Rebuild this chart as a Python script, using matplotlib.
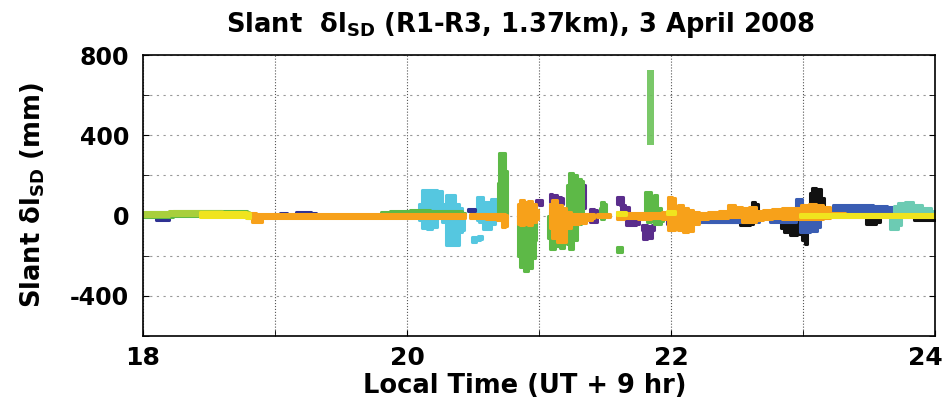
import numpy as np
import matplotlib
matplotlib.use("Agg")
import matplotlib.pyplot as plt
from matplotlib.transforms import ScaledTranslation

plt.rcParams['axes.unicode_minus'] = False

# each colour: list of segments, each segment is (hour, low mm, high mm) samples
cyan_segs = [
    [(20.085, -10, 30), (20.10, -20, 60), (20.13, -60, 125), (20.17, -65, 127),
     (20.21, -55, 127), (20.25, -10, 120), (20.28, -30, 60), (20.31, -148, 102),
     (20.35, -148, 100), (20.38, -148, 60), (20.41, -82, 40), (20.43, -70, 15)],
    [(20.49, -132, -105), (20.52, -130, -107)],
    [(20.54, -120, -100), (20.57, -118, -100)],
    [(20.53, -20, 93), (20.56, -30, 93), (20.59, -65, 68), (20.62, -65, 68),
     (20.65, -40, 85), (20.68, -10, 85), (20.69, -5, 20)],
]
purple_segs = [
    [(20.98, 60, 80), (21.02, 55, 77)],
    [(21.08, 68, 105), (21.12, 70, 100), (21.16, 60, 93), (21.18, 60, 90)],
    [(21.32, 35, 160), (21.35, 40, 150)],
    [(21.39, -32, 35), (21.44, -30, 30)],
    [(21.59, 60, 93), (21.64, 55, 93)],
    [(21.62, 18, 52), (21.68, 18, 45)],
    [(21.66, -48, -7), (21.71, -48, -5), (21.76, -40, -7)],
    [(21.78, -70, -45), (21.80, -115, -48), (21.84, -110, -50), (21.87, -70, -45)],
    [(21.97, -40, -15), (22.02, -35, -15)],
    [(22.27, -32, -7), (22.40, -30, -10), (22.57, -32, -8)],
]
navy_segs = [
    [(18.10, -22, -12), (18.20, -20, -12)],
    [(19.04, 2, 12), (19.09, 2, 12)],
    [(19.16, 4, 16), (19.23, 5, 18), (19.31, 4, 14)],
    [(20.465, 22, 35), (20.515, 22, 35)],
]
green_segs = [
    [(18.00, -8, 18), (18.15, -6, 20), (18.30, -4, 22), (18.45, -2, 24),
     (18.60, 0, 25), (18.75, -4, 24), (18.82, -12, 12)],
    [(19.80, -2, 16), (19.95, 0, 24), (20.10, 0, 26), (20.25, -4, 22),
     (20.40, -4, 24), (20.44, 0, 14)],
    [(20.69, -10, 160), (20.71, -20, 310), (20.735, -30, 310), (20.755, -10, 220)],
    [(20.84, -200, 0), (20.87, -255, -5), (20.90, -275, 0), (20.93, -260, 10),
     (20.96, -210, 0), (20.98, -120, 0)],
    [(21.07, -110, 0), (21.10, -165, 20), (21.14, -150, 30), (21.18, -160, 10),
     (21.20, -130, 0)],
    [(21.21, -140, 150), (21.24, -165, 210), (21.27, -120, 200), (21.30, -40, 180),
     (21.33, -20, 170)],
    [(21.46, 0, 40), (21.48, -15, 68), (21.51, 5, 60)],
    [(21.59, -180, -155), (21.63, -180, -155)],
    [(21.80, -15, 118), (21.83, -30, 118), (21.86, -20, 80), (21.88, -40, 100),
     (21.91, -40, 40), (21.94, -25, 0)],
]
green_column = [(21.82, 350, 725), (21.845, 350, 725), (21.87, 350, 725)]
black_segs = [
    [(22.52, -48, -30), (22.58, -45, -25), (22.62, -40, -20)],
    [(22.61, 27, 68), (22.66, 27, 60)],
    [(22.83, -60, -30), (22.88, -80, -30), (22.93, -98, -30), (22.98, -90, -30),
     (23.00, -120, -40), (23.03, -140, -50)],
    [(23.05, 52, 110), (23.08, 60, 135), (23.12, 60, 130), (23.16, 52, 90)],
    [(23.48, -40, -15), (23.53, -40, -15), (23.58, -30, -15)],
    [(23.84, -23, -7), (23.92, -20, -5), (24.00, -23, -7)],
]
blue_segs = [
    [(22.12, -30, -15), (22.40, -30, -15), (22.67, -30, -15)],
    [(22.75, -32, -15), (22.85, -32, -15), (22.95, -32, -15)],
    [(22.95, 18, 85), (22.99, 18, 85)],
    [(22.98, -82, -15), (23.03, -82, -15), (23.08, -75, -15), (23.13, -55, -15)],
    [(23.23, 18, 52), (23.35, 18, 55), (23.47, 15, 52), (23.59, 15, 50), (23.69, 15, 45)],
]
teal_segs = [
    [(23.69, 18, 50), (23.75, 18, 62), (23.80, 18, 68), (23.87, 18, 55),
     (23.94, 15, 40), (24.00, 10, 25)],
    [(23.66, -65, -15), (23.70, -65, -15), (23.74, -45, -15)],
]
lime_segs = [
    [(18.00, 0, 20), (18.40, 2, 24), (18.80, 0, 20)],
    [(22.68, -5, 10), (22.78, -5, 10)],
]
orange_segs = [
    [(18.81, -10, 12), (18.84, -32, 12), (18.88, -30, 8), (18.92, -12, 10),
     (19.10, -12, 10), (19.30, -10, 10), (19.50, -12, 8), (19.70, -10, 10),
     (19.90, -12, 8), (20.10, -12, 8), (20.30, -10, 8), (20.44, -10, 10)],
    [(20.48, -10, 10), (20.55, -12, 8), (20.65, -15, 8), (20.71, -20, 10),
     (20.73, -57, 10), (20.755, -50, 5)],
    [(20.84, -40, 60), (20.87, -48, 77), (20.90, -40, 70), (20.93, -45, 75),
     (20.96, -30, 60), (20.99, -15, 30)],
    [(21.08, -60, 60), (21.12, -110, 80), (21.16, -130, 52), (21.19, -132, 40),
     (21.22, -60, 20), (21.27, -40, 10), (21.33, -35, 10), (21.38, -20, 10),
     (21.42, -10, 10)],
    [(21.44, -5, 10), (21.50, -5, 10), (21.54, -5, 10)],
    [(21.59, -15, 18), (21.70, -12, 15), (21.80, -15, 15), (21.90, -12, 15),
     (21.96, -15, 20), (21.99, -73, 93), (22.02, -70, 90), (22.04, -40, 40),
     (22.07, -70, 52), (22.11, -82, 40), (22.15, -75, 30), (22.19, -40, 20),
     (22.24, -15, 15), (22.32, -12, 18), (22.40, -10, 25), (22.46, -5, 52),
     (22.51, -5, 45), (22.56, -30, 40), (22.62, -32, 43), (22.67, -20, 25),
     (22.73, -15, 30), (22.80, -12, 35), (22.88, -15, 40), (22.95, -15, 40),
     (23.02, -15, 52), (23.07, -15, 60), (23.12, -15, 55), (23.18, -12, 45),
     (23.23, -8, 15), (23.40, -5, 8), (23.70, -5, 6), (24.00, -5, 6)],
]
yellow_segs = [
    [(18.43, -5, 18), (18.55, -8, 20), (18.65, -5, 20), (18.75, -8, 18), (18.81, -12, 12)],
    [(21.59, 5, 18), (21.66, 5, 18)],
    [(21.97, 8, 22), (22.03, 8, 22)],
    [(22.98, -8, 10), (23.30, -8, 8), (23.60, -8, 8), (24.00, -8, 8)],
]

colors = {
    'cyan': '#55c7e0', 'purple': '#5a2d8c', 'navy': '#2e3192', 'green': '#5db947',
    'black': '#111111', 'blue': '#3a5db3', 'teal': '#6ccbb3', 'lime': '#a8cf3c',
    'orange': '#f7a11a', 'yellow': '#f0e41e',
}
layers = [('cyan', cyan_segs), ('purple', purple_segs), ('navy', navy_segs),
          ('green', green_segs), ('black', black_segs), ('blue', blue_segs),
          ('teal', teal_segs), ('lime', lime_segs), ('orange', orange_segs),
          ('yellow', yellow_segs)]

fig = plt.figure(figsize=(9.45, 4.03), dpi=100)
ax = fig.add_axes([0.1513, 0.1663, 0.8381, 0.6972])

for name, segs in layers:
    c = colors[name]
    for seg in segs:
        t, lo, hi = np.array(seg).T
        pc = ax.fill_between(t, lo, hi, step='mid', color=c, lw=2.2, edgecolor=c)
        pc.set_joinstyle('round')

t, lo, hi = np.array(green_column).T
ax.fill_between(t, lo, hi, step='mid', color='#6cc259', alpha=0.9, lw=0)

ax.set_xlim(18, 24)
ax.set_ylim(-600, 800)
ax.set_xticks([18, 20, 22, 24])
ax.set_xticks([19, 21, 23], minor=True)
ax.set_yticks([-400, 0, 400, 800])
ax.set_yticks([-600, -200, 200, 600], minor=True)
ax.grid(True, which='both', axis='x', ls=':', color='#555555', lw=0.8)
ax.grid(True, which='both', axis='y', ls=(0, (2, 4)), color='#999999', lw=0.8)
ax.set_axisbelow(True)
ax.tick_params(which='both', direction='in', top=False, right=True, length=4)
ax.tick_params(axis='y', labelsize=17, pad=10)
ax.tick_params(axis='x', labelsize=18, pad=7)
for lab in ax.get_xticklabels() + ax.get_yticklabels():
    lab.set_fontweight('bold')
last = ax.get_xticklabels()[-1]
last.set_transform(last.get_transform() + ScaledTranslation(-0.1, 0, fig.dpi_scale_trans))
for s in ax.spines.values():
    s.set_linewidth(1.2)

fig.text(0.551, 0.938, 'Slant  δl$_{\\bf SD}$ (R1-R3, 1.37km), 3 April 2008',
         ha='center', va='center', fontsize=18.5, fontweight='bold')
fig.text(0.555, 0.042, 'Local Time (UT + 9 hr)', ha='center', va='center',
         fontsize=18.5, fontweight='bold')
fig.text(0.035, 0.516, 'Slant δl$_{\\bf SD}$ (mm)', ha='center', va='center',
         rotation=90, fontsize=18.5, fontweight='bold')

fig.savefig('out.png', dpi=100)
